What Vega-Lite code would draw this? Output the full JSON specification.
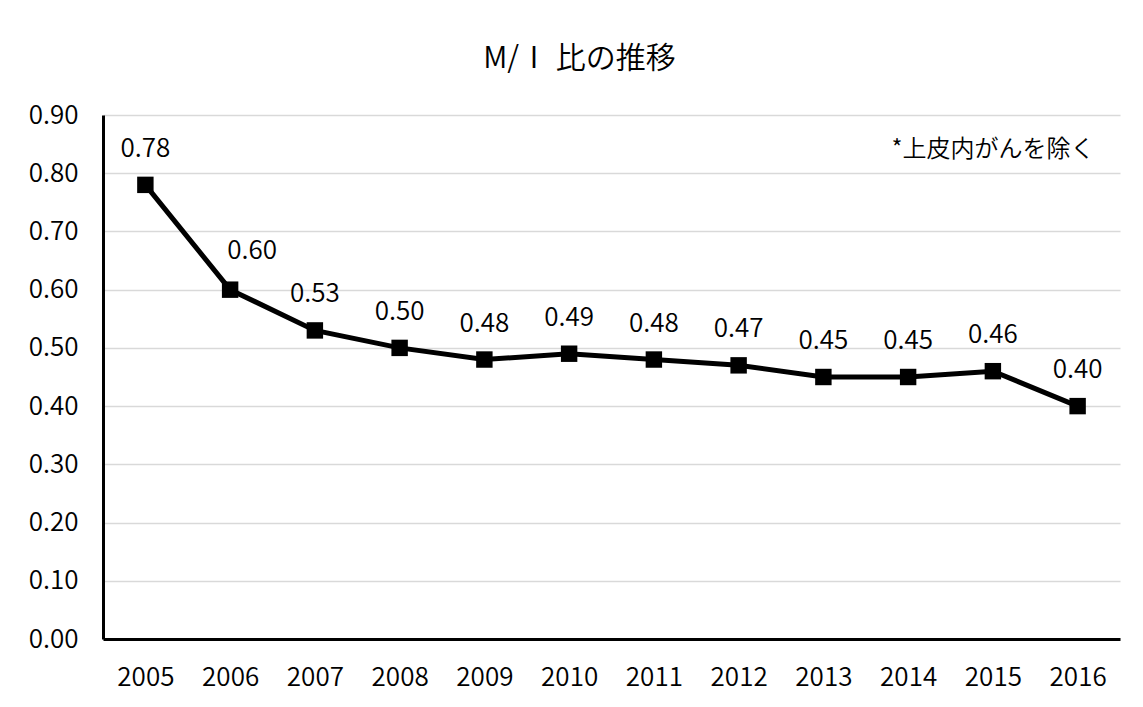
{
  "$schema": "https://vega.github.io/schema/vega-lite/v6.json",
  "autosize": "none",
  "width": 1017,
  "height": 524,
  "padding": {"left": 103, "top": 115, "right": 23, "bottom": 68},
  "background": "white",
  "config": {
    "view": {"stroke": null},
    "font": "Noto Sans CJK JP",
    "text": {"font": "Noto Sans CJK JP", "fontWeight": 350},
    "axis": {"labelFontWeight": 350}
  },
  "title": {
    "text": "M/Ⅰ 比の推移",
    "font": "Noto Sans CJK JP",
    "fontSize": 30,
    "fontWeight": 350,
    "color": "#000000",
    "anchor": "middle",
    "frame": "group",
    "dx": -32,
    "baseline": "alphabetic",
    "offset": 4
  },
  "data": {
    "values": [
      {"year": 2005, "ratio": 0.78},
      {"year": 2006, "ratio": 0.60},
      {"year": 2007, "ratio": 0.53},
      {"year": 2008, "ratio": 0.50},
      {"year": 2009, "ratio": 0.48},
      {"year": 2010, "ratio": 0.49},
      {"year": 2011, "ratio": 0.48},
      {"year": 2012, "ratio": 0.47},
      {"year": 2013, "ratio": 0.45},
      {"year": 2014, "ratio": 0.45},
      {"year": 2015, "ratio": 0.46},
      {"year": 2016, "ratio": 0.40}
    ]
  },
  "encoding": {
    "x": {
      "field": "year",
      "type": "ordinal",
      "scale": {"type": "point", "padding": 0.5},
      "axis": {
        "title": null,
        "labelAngle": 0,
        "labelFont": "Noto Sans CJK JP",
        "labelFontSize": 26,
        "labelFontWeight": 350,
        "labelColor": "#000000",
        "labelPadding": 25,
        "ticks": false,
        "tickSize": 0,
        "domainColor": "#000000",
        "domainWidth": 3,
        "grid": false
      }
    },
    "y": {
      "field": "ratio",
      "type": "quantitative",
      "scale": {"domain": [0, 0.9], "nice": false, "zero": true},
      "axis": {
        "title": null,
        "values": [0, 0.1, 0.2, 0.3, 0.4, 0.5, 0.6, 0.7, 0.8, 0.9],
        "format": ".2f",
        "labelFont": "Noto Sans CJK JP",
        "labelFontSize": 26,
        "labelFontWeight": 350,
        "labelColor": "#000000",
        "labelPadding": 25,
        "ticks": false,
        "tickSize": 0,
        "domainColor": "#000000",
        "domainWidth": 3,
        "grid": true,
        "gridColor": "#d9d9d9",
        "gridWidth": 1.5
      }
    }
  },
  "layer": [
    {
      "mark": {"type": "line", "color": "#000000", "strokeWidth": 5}
    },
    {
      "mark": {"type": "point", "shape": "square", "filled": true, "size": 270, "color": "#000000", "opacity": 1}
    },
    {
      "transform": [{"filter": "datum.year != 2006"}],
      "mark": {"type": "text", "font": "Noto Sans CJK JP", "dy": -36, "fontSize": 26, "fontWeight": 350, "color": "#000000", "baseline": "middle", "align": "center"},
      "encoding": {"text": {"field": "ratio", "type": "quantitative", "format": ".2f"}}
    },
    {
      "transform": [{"filter": "datum.year == 2006"}],
      "mark": {"type": "text", "font": "Noto Sans CJK JP", "dx": 22, "dy": -39, "fontSize": 26, "fontWeight": 350, "color": "#000000", "baseline": "middle", "align": "center"},
      "encoding": {"text": {"field": "ratio", "type": "quantitative", "format": ".2f"}}
    },
    {
      "data": {"values": [{"note": "*上皮内がんを除く", "year": 2016, "ratio": 0.84}]},
      "mark": {"type": "text", "font": "Noto Sans CJK JP", "align": "right", "baseline": "middle", "dx": 17, "fontSize": 24, "fontWeight": 350, "color": "#000000"},
      "encoding": {
        "text": {"field": "note", "type": "nominal"}
      }
    }
  ]
}
